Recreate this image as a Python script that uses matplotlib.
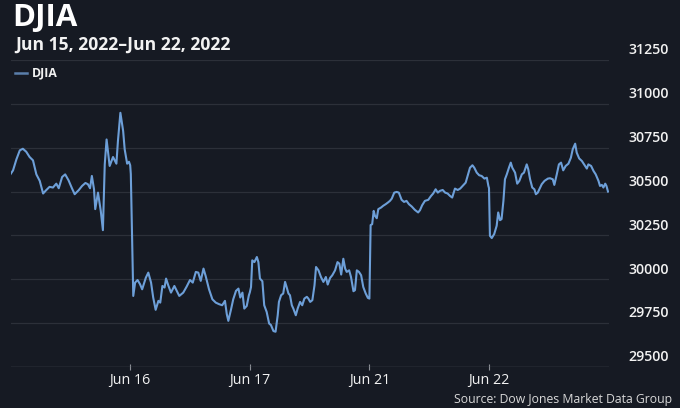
import matplotlib
matplotlib.use("Agg")
import matplotlib.pyplot as plt
import numpy as np

# ---------------- data ----------------
title = "DJIA"
subtitle = "Jun 15, 2022\u2013Jun 22, 2022"
series_name = "DJIA"
source = "Source: Dow Jones Market Data Group"

days = ["Jun 15", "Jun 16", "Jun 17", "Jun 21", "Jun 22"]
session_minutes = 390

jun15_min = [0, 8, 19, 30, 40, 51, 62, 73, 84, 95, 106, 116, 127, 138, 149, 157, 168, 178, 189, 200,
             209, 222, 233, 244, 252, 259, 265, 272, 276, 285, 294, 301, 307, 313, 323, 334, 345, 350,
             358, 367, 372, 380, 386, 390]
jun15_val = [30600, 30621, 30684, 30735, 30744, 30727, 30697, 30678, 30598, 30561, 30489, 30508, 30527,
             30523, 30545, 30519, 30583, 30598, 30564, 30519, 30485, 30508, 30532, 30549, 30542, 30519,
             30589, 30513, 30400, 30494, 30390, 30280, 30655, 30797, 30646, 30697, 30659, 30788, 30949,
             30845, 30741, 30659, 30670, 30650]

jun16_min = [2, 10, 16, 24, 32, 39, 51, 59, 68, 75, 83, 92, 98, 105, 112, 117, 124, 133, 144, 152, 160,
             173, 184, 195, 204, 214, 222, 230, 239, 246, 257, 268, 279, 290, 300, 309, 315, 320, 329,
             336, 345, 353, 359, 366, 372, 380, 387, 390]
jun16_val = [30600, 29905, 29981, 29996, 29972, 29943, 30009, 30038, 29981, 29896, 29826, 29877, 29867,
             29962, 29953, 30004, 29966, 29924, 29962, 29934, 29905, 29924, 29958, 29996, 29981, 30042,
             30038, 29991, 30061, 30019, 29943, 29886, 29867, 29858, 29852, 29877, 29801, 29763, 29830,
             29886, 29934, 29947, 29896, 29924, 29833, 29848, 29909, 29925]

jun17_min = [4, 8, 15, 23, 28, 33, 41, 47, 55, 63, 69, 77, 84, 91, 95, 102, 109, 115, 120, 126, 131,
             137, 142, 150, 156, 164, 171, 178, 186, 191, 197, 204, 211, 216, 224, 232, 240, 248, 254,
             262, 269, 278, 286, 292, 298, 305, 311, 316, 324, 330, 338, 343, 349, 356, 363, 370, 378,
             385, 390]
jun17_val = [29956, 30108, 30098, 30127, 30098, 30004, 29989, 29852, 29814, 29748, 29739, 29705, 29701,
             29795, 29871, 29909, 29919, 29985, 29956, 29919, 29909, 29852, 29833, 29795, 29833, 29871,
             29852, 29890, 29900, 29890, 29871, 29881, 29966, 30070, 30051, 30013, 29985, 30013, 29970,
             30008, 30023, 30051, 30098, 30089, 30027, 30117, 30061, 30042, 30051, 30013, 29932, 29938,
             30051, 30042, 30023, 29956, 29919, 29894, 29890]

jun21_min = [4, 9, 14, 18, 24, 29, 38, 45, 53, 60, 67, 73, 81, 89, 96, 105, 113, 121, 129, 138, 148,
             159, 165, 172, 181, 192, 201, 208, 216, 223, 230, 239, 247, 255, 263, 270, 279, 288, 296,
             306, 314, 321, 328, 336, 342, 350, 358, 366, 375, 383, 388, 390]
jun21_val = [30309, 30314, 30390, 30362, 30348, 30400, 30409, 30419, 30428, 30437, 30447, 30460, 30494,
             30498, 30494, 30453, 30441, 30447, 30428, 30415, 30396, 30381, 30394, 30422, 30447, 30453,
             30475, 30489, 30513, 30494, 30504, 30509, 30494, 30489, 30475, 30466, 30517, 30509, 30517,
             30536, 30551, 30593, 30636, 30650, 30636, 30608, 30593, 30589, 30574, 30579, 30532, 30520]

jun22_min = [3, 9, 17, 25, 30, 36, 41, 47, 52, 58, 65, 71, 76, 85, 92, 99, 107, 114, 123, 128, 134,
             141, 148, 153, 159, 164, 172, 181, 192, 199, 208, 213, 221, 228, 235, 242, 250, 259, 267,
             273, 281, 286, 294, 303, 311, 319, 324, 333, 341, 348, 357, 362, 368, 373, 379, 383, 388]
jun22_val = [30248, 30235, 30258, 30305, 30381, 30337, 30343, 30447, 30570, 30598, 30636, 30665, 30636,
             30608, 30545, 30561, 30598, 30608, 30655, 30627, 30570, 30523, 30513, 30485, 30494, 30513,
             30542, 30561, 30574, 30576, 30570, 30538, 30598, 30655, 30665, 30621, 30646, 30659, 30693,
             30741, 30773, 30722, 30689, 30674, 30652, 30631, 30655, 30646, 30617, 30598, 30561, 30532,
             30538, 30523, 30545, 30532, 30500]

y_ticks = [29500, 29750, 30000, 30250, 30500, 30750, 31000, 31250]
y_tick_labels = ["29500", "29750", "30000", "30250", "30500", "30750", "31000", "31250"]

# ---------------- build series on a trading-session axis ----------------
all_min = [jun15_min, jun16_min, jun17_min, jun21_min, jun22_min]
all_val = [jun15_val, jun16_val, jun17_val, jun21_val, jun22_val]
xs, ys = [], []
for i, (m, v) in enumerate(zip(all_min, all_val)):
    xs.extend([i + mm / session_minutes for mm in m])
    ys.extend(v)

# ---------------- style ----------------
BG = "#161a23"
LINE = "#6d9fd8"
GRID = "#2c3039"
TEXT = "#f2f2f2"
FONT = ["Open Sans", "DejaVu Sans"]
plt.rcParams["font.family"] = FONT

fig = plt.figure(figsize=(6.8, 4.08), dpi=100, facecolor=BG)
ax = fig.add_axes([10.6 / 680, 1 - 367 / 408, 598 / 680, (367 - 60) / 408])
ax.set_facecolor(BG)

ax.plot(xs, ys, color=LINE, lw=1.5, solid_joinstyle="round", zorder=3)

ax.set_xlim(0, len(days))
ax.set_ylim(y_ticks[0], y_ticks[-1])

for s in ax.spines.values():
    s.set_visible(False)

# grid lines
for yv in y_ticks[1:]:
    ax.axhline(yv, color=GRID, lw=0.9, zorder=1)
ax.axhline(y_ticks[0], color="#4a4f57", lw=1.0, zorder=2)

# y labels on right, sitting above grid lines
ax.set_yticks([])
for yv, lab in zip(y_ticks, y_tick_labels):
    ax.annotate(lab, xy=(1, yv), xycoords=("axes fraction", "data"),
                xytext=(14.5, 2), textcoords="offset points",
                ha="left", va="bottom", color=TEXT, fontsize=10.2, fontweight="semibold")

# x ticks at session starts
ax.set_xticks(range(1, len(days)))
ax.set_xticklabels(days[1:], color=TEXT, fontsize=10.3)
ax.tick_params(axis="x", direction="inout", length=4, width=0.8, color="#8a8e95", pad=2)

# titles
fig.text(12 / 680, 1 - 17.5 / 408, title, color="white", fontsize=22.5, fontweight="bold",
         ha="left", va="center")
fig.text(15 / 680, 1 - 45 / 408, subtitle, color=TEXT, fontsize=12.6, fontweight="bold",
         ha="left", va="center")

# legend
fig.add_artist(plt.Line2D([15 / 680, 27 / 680], [1 - 73 / 408, 1 - 73 / 408],
                          color="#5a7fab", lw=1.8, transform=fig.transFigure))
fig.text(31.5 / 680, 1 - 73 / 408, series_name, color=TEXT, fontsize=8.8, fontweight="bold",
         ha="left", va="center")

# source
fig.text(672 / 680, 1 - 399 / 408, source, color="#d8d8d8", fontsize=8.8,
         ha="right", va="center")

fig.savefig("out.png", dpi=100, facecolor=BG)
